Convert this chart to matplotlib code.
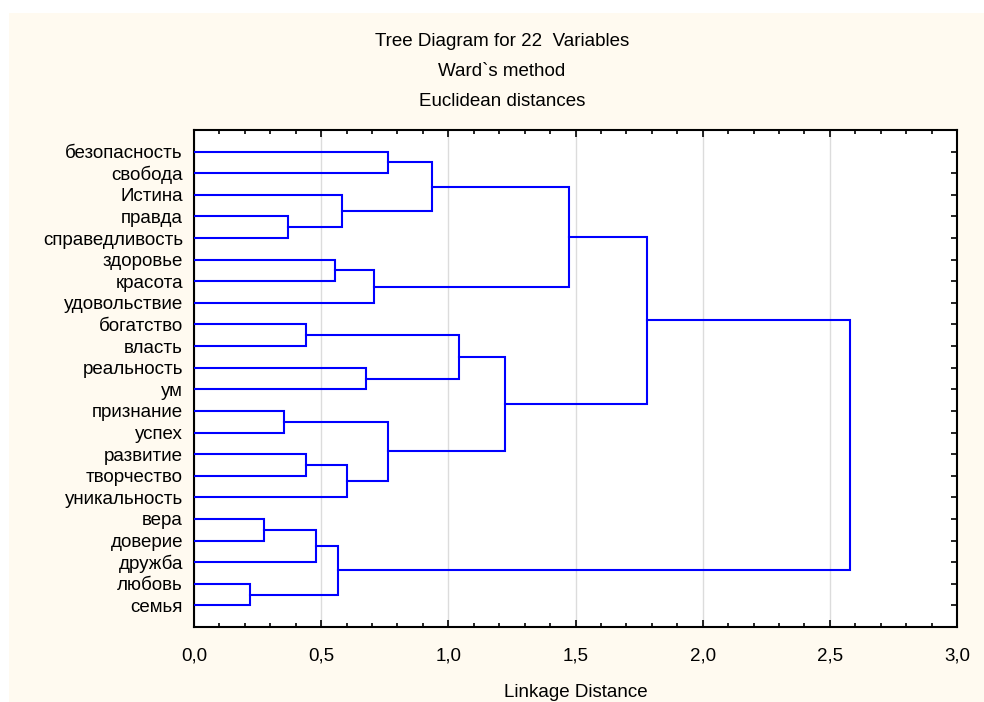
import matplotlib
matplotlib.use("Agg")
import matplotlib.pyplot as plt
from matplotlib.patches import Rectangle
from matplotlib.ticker import MultipleLocator, FuncFormatter

plt.rcParams['font.family'] = ['Liberation Sans', 'DejaVu Sans']

# leaves, top to bottom
leaves = ["безопасность", "свобода", "Истина", "правда", "справедливость",
          "здоровье", "красота", "удовольствие", "богатство", "власть",
          "реальность", "ум", "признание", "успех", "развитие", "творчество",
          "уникальность", "вера", "доверие", "дружба", "любовь", "семья"]

# merges: (child a, child b, linkage distance); new cluster ids start at 22
merge_a = [20, 17, 12, 3, 8, 14, 23, 5, 28, 2, 27, 10, 29, 0, 24, 35, 26, 38, 37, 40, 41]
merge_b = [21, 18, 13, 4, 9, 15, 19, 6, 22, 25, 16, 11, 7, 1, 32, 31, 33, 36, 34, 39, 30]
merge_h = [0.220, 0.277, 0.354, 0.368, 0.440, 0.440, 0.480, 0.553, 0.565, 0.583,
           0.603, 0.675, 0.709, 0.761, 0.764, 0.937, 1.041, 1.223, 1.475, 1.780, 2.580]

fig = plt.figure(figsize=(9.84, 7.02), dpi=100)
fig.patch.set_facecolor("white")
fig.patches.append(Rectangle((9 / 984, 0), 1, 1 - 13 / 702, transform=fig.transFigure,
                             facecolor="#FFFAF0", edgecolor="none", zorder=-10))

ax = fig.add_axes([194 / 984, 1 - 627 / 702, (957 - 194) / 984, (627 - 130) / 702])
ax.set_facecolor("white")

n = len(leaves)
pos = {i: (i + 1, 0.0) for i in range(n)}  # id -> (y, x)
for k, (a, b, h) in enumerate(zip(merge_a, merge_b, merge_h)):
    ya, xa = pos[a]
    yb, xb = pos[b]
    ax.plot([xa, h, h, xb], [ya, ya, yb, yb], color="#0000FF", lw=1.5,
            solid_joinstyle="miter", zorder=3)
    pos[n + k] = ((ya + yb) / 2, h)

fs = 13.5
ax.set_xlim(0, 3)
ax.set_ylim(n + 1, 0)
ax.xaxis.set_major_locator(MultipleLocator(0.5))
ax.xaxis.set_minor_locator(MultipleLocator(0.1))
ax.xaxis.set_major_formatter(FuncFormatter(lambda v, p: f"{v:.1f}".replace(".", ",")))
ax.set_yticks(range(1, n + 1))
ax.set_yticklabels(leaves)
ax.tick_params(axis="x", which="both", direction="in", top=True, labelsize=fs,
               pad=15, width=1.2, colors="black")
ax.tick_params(axis="x", which="major", length=5)
ax.tick_params(axis="x", which="minor", length=3)
ax.tick_params(axis="y", direction="in", right=True, length=4, width=1.2,
               labelsize=fs, pad=8)
ax.grid(axis="x", which="major", color="#DCDCDC", lw=1)
for s in ax.spines.values():
    s.set_linewidth(1.5)

ax.set_xlabel("Linkage Distance", fontsize=fs, labelpad=14)

fig.text(0.51, 1 - 42 / 702, "Tree Diagram for 22  Variables", ha="center", va="center", fontsize=fs)
fig.text(0.51, 1 - 71 / 702, "Ward`s method", ha="center", va="center", fontsize=fs)
fig.text(0.51, 1 - 101 / 702, "Euclidean distances", ha="center", va="center", fontsize=fs)

fig.savefig("out.png", dpi=100)
